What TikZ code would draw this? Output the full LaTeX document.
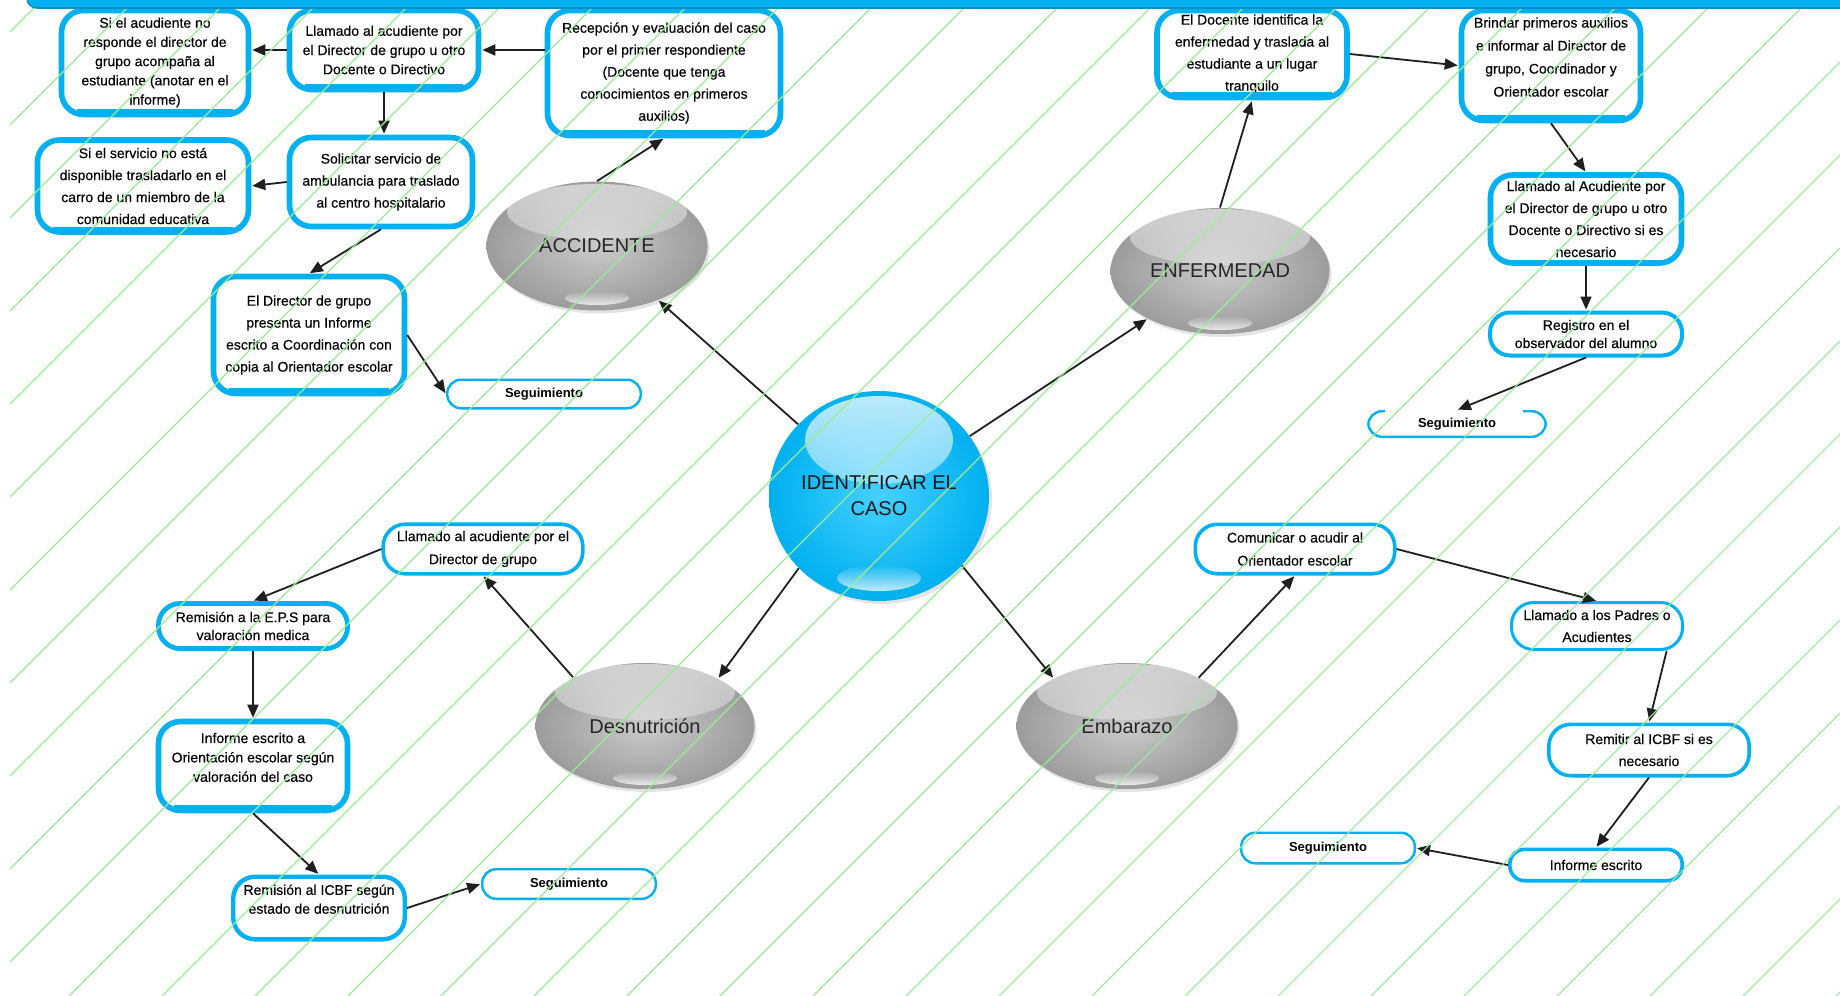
\documentclass[tikz,border=0pt]{standalone}
\usepackage{fontspec}
\setmainfont{Liberation Sans}
\newfontfamily\bxf{Liberation Sans}[FakeBold=0.35]
\usetikzlibrary{shapes.geometric, arrows.meta, fadings, shadows, calc}
\definecolor{boxblue}{HTML}{00B0F0}
\definecolor{barblue}{HTML}{00B0F0}
\definecolor{bardark}{HTML}{0A8FC0}
\definecolor{gridgreen}{HTML}{98EC98}
\tikzfading[name=fadedown, top color=transparent!0, bottom color=transparent!100]
\tikzfading[name=fadeup, top color=transparent!100, bottom color=transparent!0]
\tikzset{
  bx/.style={draw=boxblue, fill=white, rounded corners=11pt, align=center, inner sep=0pt,
    font=\bxf\fontsize{7}{10.5}\selectfont},
  tk/.style={bx, line width=2.8pt},
  md/.style={bx, line width=1.8pt},
  lh/.style={font=\bxf\fontsize{7}{#1}\selectfont},
  seg/.style={bx, line width=1.2pt, rounded corners=7pt, font=\bfseries\fontsize{6.5}{8}\selectfont},
  grayball/.style={ellipse, inner sep=0pt,
    inner color={rgb,255:red,202;green,202;blue,202},
    outer color={rgb,255:red,156;green,156;blue,156},
    font=\fontsize{10}{12}\selectfont, text=black!85,
    drop shadow={opacity=0.22, shadow xshift=1pt, shadow yshift=-1.5pt},
    path picture={
      \fill[white, path fading=fadedown, opacity=0.55]
        ([yshift=17pt]path picture bounding box.center) ellipse [x radius=45pt, y radius=14pt];
      \fill[white, path fading=fadeup, opacity=0.8]
        ([yshift=-26pt]path picture bounding box.center) ellipse [x radius=16pt, y radius=3.5pt];
    }},
  blueball/.style={ellipse, inner sep=0pt, minimum width=104pt, minimum height=105pt,
    inner color={rgb,255:red,70;green,208;blue,255},
    outer color={rgb,255:red,0;green,176;blue,238},
    font=\fontsize{10}{13}\selectfont, align=center, text=black!90,
    drop shadow={opacity=0.22, shadow xshift=1.5pt, shadow yshift=-1.5pt},
    path picture={
      \fill[white, path fading=fadedown, opacity=0.75]
        ([yshift=28pt]path picture bounding box.center) ellipse [x radius=37pt, y radius=22pt];
      \fill[white, path fading=fadeup, opacity=0.75]
        ([yshift=-41pt]path picture bounding box.center) ellipse [x radius=21pt, y radius=6.5pt];
    }},
  arr/.style={-{Triangle[length=6.5pt,width=5.5pt]}, line width=0.9pt, draw=black!88, shorten >=0.5pt},
  heavy/.style={boxblue, line width=3pt},
}
\newcommand\heavybottom[1]{\draw[heavy] ([xshift=9pt,yshift=2.5pt]#1.south west) -- ([xshift=-9pt,yshift=2.5pt]#1.south east);}
\begin{document}
\begin{tikzpicture}[x=0.5pt, y=-0.5pt]
\useasboundingbox (0,0) rectangle (1840,995);
\fill[white] (0,0) rectangle (1840,995);

% ---------- central and category balls ----------
\node[blueball] (ident) at (879,496) {IDENTIFICAR EL\\CASO};
\node[grayball, minimum width=110.5pt, minimum height=64.5pt] (acc) at (597,246) {ACCIDENTE};
\node[grayball, minimum width=109.5pt, minimum height=63pt] (enf) at (1220,271) {ENFERMEDAD};
\node[grayball, minimum width=109.5pt, minimum height=63pt] (desn) at (645,726) {Desnutrición};
\node[grayball, minimum width=110.5pt, minimum height=63pt] (emb) at (1127,726) {Embarazo};

% ---------- ACCIDENTE branch ----------
\node[tk, lh=9.6, minimum width=93.5pt, minimum height=52pt] (siacud) at (155,62.5)
  {Si el acudiente  no\\responde  el director de\\grupo acompaña al\\estudiante  (anotar  en el\\informe)};
\node[tk, lh=9.6, minimum width=94.5pt, minimum height=39.5pt] (llamacc) at (384,50)
  {Llamado al acudiente  por\\el Director de grupo  u otro\\Docente o Directivo};
\node[tk, lh=11, minimum width=116.5pt, minimum height=62.5pt] (recep) at (664,73)
  {Recepción y evaluación del caso\\por el primer respondiente\\(Docente que tenga\\conocimientos  en primeros\\auxilios)};
\node[tk, lh=11, minimum width=105.5pt, minimum height=46pt] (siserv) at (143,186)
  {Si el servicio  no está\\disponible   trasladarlo  en el\\carro de un miembro  de la\\comunidad  educativa};
\node[tk, lh=11, minimum width=91.5pt, minimum height=44.5pt] (solic) at (381,182)
  {Solicitar servicio  de\\ambulancia para traslado\\al centro hospitalario};
\node[tk, lh=11, minimum width=95.5pt, minimum height=58.5pt] (elDir) at (309,335)
  {El Director de grupo\\presenta  un Informe\\escrito a Coordinación  con\\copia al Orientador  escolar};
\node[seg, minimum width=96.8pt, minimum height=14.3pt] (seg1) at (544,394) {Seguimiento};

% ---------- ENFERMEDAD branch ----------
\node[tk, lh=11, minimum width=95pt, minimum height=43.5pt] (eldoc) at (1252,54)
  {El Docente identifica  la\\enfermedad y traslada  al\\estudiante  a un lugar\\tranquilo};
\node[tk, lh=11.5, minimum width=89.5pt, minimum height=55pt] (brindar) at (1551,65.5)
  {Brindar  primeros  auxilios\\e informar  al Director de\\grupo, Coordinador  y\\Orientador  escolar\\[-3pt]\mbox{}};
\node[tk, lh=11, minimum width=95.5pt, minimum height=44pt] (llamenf) at (1586,219)
  {Llamado al Acudiente  por\\el Director de grupo  u otro\\Docente o Directivo si es\\necesario};
\node[bx, line width=2pt, lh=9, rounded corners=10pt, minimum width=96pt, minimum height=21.5pt] (registro) at (1586,334)
  {Registro  en el\\observador  del alumno};
\node[seg, minimum width=88.8pt, minimum height=12.8pt] (seg2) at (1457,424) {Seguimiento};
\draw[white, line width=2pt] ([xshift=9pt,yshift=-0.6pt]seg2.north west) -- ([xshift=-12pt,yshift=-0.6pt]seg2.north east);

% ---------- Desnutricion branch ----------
\node[md, lh=11.5, minimum width=99.8pt, minimum height=24.8pt] (llamdes) at (483,549)
  {Llamado al acudiente  por el\\Director de grupo};
\node[bx, line width=2.4pt, lh=9, minimum width=94.6pt, minimum height=22.6pt] (remeps) at (253,626)
  {Remisión  a la E.P.S para\\valoración  medica};
\node[tk, lh=9.7, minimum width=94.5pt, minimum height=44.5pt] (infesc) at (253,766)
  {Informe escrito a\\Orientación  escolar según\\valoración  del caso\\[-1pt]\mbox{}};
\node[bx, line width=2.2pt, lh=9.4, minimum width=85.8pt, minimum height=31.3pt] (remicbf) at (319,908)
  {Remisión  al ICBF según\\estado de desnutrición\\[-0.5pt]\mbox{}};
\node[seg, minimum width=86.8pt, minimum height=14.8pt] (seg3) at (569,884) {Seguimiento};

% ---------- Embarazo branch ----------
\node[md, lh=11.5, minimum width=99.7pt, minimum height=24.7pt] (comun) at (1295,549)
  {Comunicar  o acudir al\\Orientador  escolar};
\node[bx, line width=1.5pt, lh=11, minimum width=85.5pt, minimum height=23.5pt] (llampad) at (1597,626)
  {Llamado a los Padres  o\\Acudientes};
\node[md, lh=11, minimum width=100.2pt, minimum height=25.7pt] (remitir) at (1649,750)
  {Remitir  al ICBF si es\\necesario};
\node[md, rounded corners=7.5pt, minimum width=86.2pt, minimum height=15.7pt] (infesc2) at (1596,865)
  {Informe escrito};
\node[seg, minimum width=86.8pt, minimum height=15.3pt] (seg4) at (1328,848) {Seguimiento};

% heavier lower edges of the thick boxes
\heavybottom{siacud}\heavybottom{recep}\heavybottom{siserv}\heavybottom{elDir}
\heavybottom{eldoc}\heavybottom{brindar}\heavybottom{infesc}\heavybottom{llamacc}

% ---------- connectors ----------
\draw[arr] (recep.west |- llamacc.east) -- (llamacc.east);
\draw[arr] (llamacc.west) -- (llamacc.west -| siacud.east);
\draw[arr] (llamacc.south) -- (llamacc.south |- solic.north);
\draw[arr] (solic.west) -- (siserv.east);
\draw[arr] (solic.south) -- (elDir.north);
\draw[arr] (elDir.east) -- (seg1.west);
\draw[arr] (acc.north) -- (recep.south);
\draw[arr] (ident) -- (acc);
\draw[arr] (ident) -- (enf);
\draw[arr] (enf.north) -- (eldoc.south);
\draw[arr] (eldoc.east) -- (brindar.west);
\draw[arr] (brindar.south) -- (llamenf.north);
\draw[arr] (llamenf.south) -- (registro.north);
\draw[arr] (registro.south) -- (seg2.north);
\draw[arr] (ident.-138) -- (desn.33);
\draw[arr] (ident.-40) -- (emb.147);
\draw[arr] (desn.146) -- (llamdes.south);
\draw[arr] (llamdes.west) -- (remeps.north);
\draw[arr] (remeps.south) -- (infesc.north);
\draw[arr] (infesc.south) -- (remicbf.north);
\draw[arr] (remicbf.east) -- (seg3.west);
\draw[arr] (emb.34) -- (comun.south);
\draw[arr] (comun.east) -- (llampad.north);
\draw[arr] ($(llampad.south)!0.8!(llampad.south east)$) -- (remitir.north);
\draw[arr] (remitir.south) -- (infesc2.north);
\draw[arr] (infesc2.west) -- (seg4.east);

% ---------- diagonal green hatch ----------
\begin{scope}
  \clip (10,8) rectangle (1840,995);
  \foreach \k in {0,...,30} {
    \draw[gridgreen, line width=0.55pt] (10,32+93*\k) -- ++(2100,-2100);
  }
\end{scope}

% ---------- top bar ----------
\fill[barblue, rounded corners=5pt] (27,-20) rectangle (1860,8);
\draw[bardark, line width=0.8pt, rounded corners=5pt] (27,-20) -- (27,8) -- (1860,8);
\end{tikzpicture}
\end{document}
